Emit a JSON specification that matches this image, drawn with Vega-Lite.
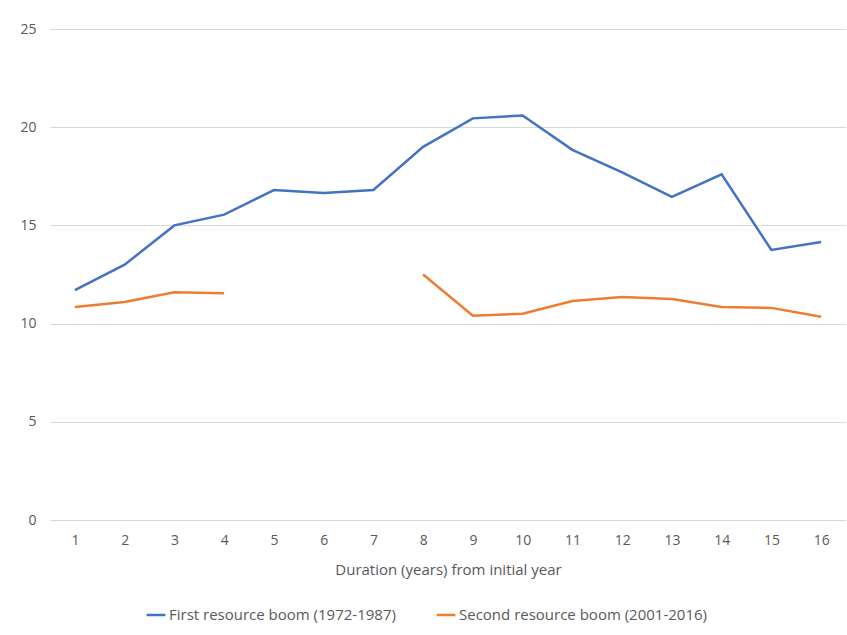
{
  "$schema": "https://vega.github.io/schema/vega-lite/v6.json",
  "autosize": "none",
  "width": 796,
  "height": 491,
  "padding": {"left": 50, "top": 29, "right": 1, "bottom": 115},
  "background": "white",
  "config": {
    "font": "Open Sans",
    "view": {"stroke": null},
    "axis": {"labelColor": "#595959", "titleColor": "#595959", "labelFontSize": 14, "titleFontSize": 15, "titleFontWeight": "normal", "gridColor": "#d9d9d9", "domain": false, "ticks": false}
  },
  "data": {
    "values": [
      {"year": 1, "series": "First resource boom (1972-1987)", "value": 11.7},
      {"year": 2, "series": "First resource boom (1972-1987)", "value": 13.0},
      {"year": 3, "series": "First resource boom (1972-1987)", "value": 15.0},
      {"year": 4, "series": "First resource boom (1972-1987)", "value": 15.55},
      {"year": 5, "series": "First resource boom (1972-1987)", "value": 16.8},
      {"year": 6, "series": "First resource boom (1972-1987)", "value": 16.65},
      {"year": 7, "series": "First resource boom (1972-1987)", "value": 16.8},
      {"year": 8, "series": "First resource boom (1972-1987)", "value": 19.0},
      {"year": 9, "series": "First resource boom (1972-1987)", "value": 20.45},
      {"year": 10, "series": "First resource boom (1972-1987)", "value": 20.6},
      {"year": 11, "series": "First resource boom (1972-1987)", "value": 18.85},
      {"year": 12, "series": "First resource boom (1972-1987)", "value": 17.7},
      {"year": 13, "series": "First resource boom (1972-1987)", "value": 16.45},
      {"year": 14, "series": "First resource boom (1972-1987)", "value": 17.6},
      {"year": 15, "series": "First resource boom (1972-1987)", "value": 13.75},
      {"year": 16, "series": "First resource boom (1972-1987)", "value": 14.15},
      {"year": 1, "series": "Second resource boom (2001-2016)", "value": 10.85},
      {"year": 2, "series": "Second resource boom (2001-2016)", "value": 11.1},
      {"year": 3, "series": "Second resource boom (2001-2016)", "value": 11.6},
      {"year": 4, "series": "Second resource boom (2001-2016)", "value": 11.55},
      {"year": 5, "series": "Second resource boom (2001-2016)", "value": null},
      {"year": 6, "series": "Second resource boom (2001-2016)", "value": null},
      {"year": 7, "series": "Second resource boom (2001-2016)", "value": null},
      {"year": 8, "series": "Second resource boom (2001-2016)", "value": 12.5},
      {"year": 9, "series": "Second resource boom (2001-2016)", "value": 10.4},
      {"year": 10, "series": "Second resource boom (2001-2016)", "value": 10.5},
      {"year": 11, "series": "Second resource boom (2001-2016)", "value": 11.15},
      {"year": 12, "series": "Second resource boom (2001-2016)", "value": 11.35},
      {"year": 13, "series": "Second resource boom (2001-2016)", "value": 11.25},
      {"year": 14, "series": "Second resource boom (2001-2016)", "value": 10.85},
      {"year": 15, "series": "Second resource boom (2001-2016)", "value": 10.8},
      {"year": 16, "series": "Second resource boom (2001-2016)", "value": 10.35}
    ]
  },
  "mark": {"type": "line", "strokeWidth": 2.5, "invalid": "break-paths-show-domains"},
  "encoding": {
    "x": {
      "field": "year", "type": "ordinal",
      "scale": {"type": "point", "padding": 0.5},
      "axis": {"labelAngle": 0, "labelPadding": 13, "title": "Duration (years) from initial year", "titlePadding": 15, "grid": false}
    },
    "y": {
      "field": "value", "type": "quantitative",
      "scale": {"domain": [0, 25], "nice": false},
      "axis": {"values": [0, 5, 10, 15, 20, 25], "title": null, "labelPadding": 14, "grid": true}
    },
    "color": {
      "field": "series", "type": "nominal",
      "scale": {"range": ["#4472C4", "#ED7D31"]},
      "legend": {"orient": "none", "legendX": 95, "legendY": 575, "direction": "horizontal", "title": null, "symbolType": "stroke", "symbolStrokeWidth": 2.5, "symbolSize": 350, "labelFontSize": 15, "labelLimit": 400, "labelColor": "#595959", "columnPadding": 35, "labelOffset": 2}
    }
  }
}
